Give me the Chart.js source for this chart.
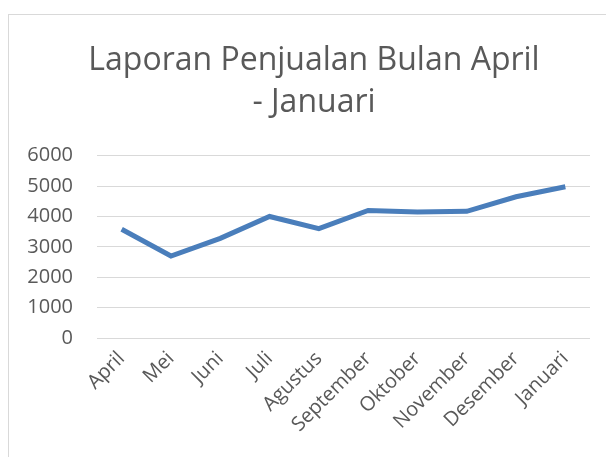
<!DOCTYPE html>
<html>
<head>
<meta charset="utf-8">
<script src="https://cdn.jsdelivr.net/npm/chart.js@4"></script>
<style>
  body { margin: 0; background: #fff; }
  #wrap { position: relative; width: 606px; height: 457px; overflow: hidden; }
  #frame { position: absolute; left: 8px; top: 14px; width: 620px; height: 470px; border: 1px solid #d9d9d9; box-sizing: border-box; }
  canvas { position: absolute; left: 0; top: 0; }
</style>
</head>
<body>
<div id="wrap">
  <div id="frame"></div>
  <canvas id="lineChart" width="606" height="457"></canvas>
</div>
<script>
var bulan = ["April", "Mei", "Juni", "Juli", "Agustus", "September", "Oktober", "November", "Desember", "Januari"];
var penjualan = [3580, 2700, 3280, 4000, 3600, 4200, 4150, 4170, 4650, 4980];
var judul = ["Laporan Penjualan Bulan April", "- Januari"];

// geser judul sedikit ke kanan seperti di Excel
var geserJudul = {
  id: "geserJudul",
  afterLayout: function (chart) {
    if (chart.titleBlock) chart.titleBlock.left = 38;
  }
};

var ctx = document.getElementById("lineChart").getContext("2d");
var lineChart = new Chart(ctx, {
  type: "line",
  data: {
    labels: bulan,
    datasets: [
      {
        label: "Penjualan",
        data: penjualan,
        borderColor: "#4a7ebb",
        borderWidth: 5,
        pointRadius: 0,
        tension: 0,
        fill: false
      }
    ]
  },
  options: {
    responsive: false,
    animation: false,
    layout: { padding: { left: 0, right: 16, top: 0, bottom: 0 } },
    plugins: {
      legend: { display: false },
      tooltip: { enabled: false },
      title: {
        display: true,
        text: judul,
        color: "#595959",
        font: { family: "Open Sans", size: 32, weight: "normal", lineHeight: 1.34 },
        padding: { top: 39, bottom: 31 }
      }
    },
    scales: {
      x: {
        offset: true,
        grid: { display: false, drawTicks: false },
        border: { display: false },
        ticks: {
          color: "#595959",
          font: { family: "Open Sans", size: 20 },
          minRotation: 45,
          maxRotation: 45,
          padding: 9
        },
        afterFit: function (scale) { scale.height = 119; }
      },
      y: {
        min: 0,
        max: 6000,
        grid: { color: "#d9d9d9", lineWidth: 1, drawTicks: false },
        border: { display: false },
        ticks: {
          stepSize: 1000,
          color: "#595959",
          font: { family: "Open Sans", size: 20 },
          padding: 24,
          callback: function (v) { return String(v); }
        },
        afterFit: function (scale) { scale.width = 97; }
      }
    }
  },
  plugins: [geserJudul]
});
</script>
</body>
</html>
